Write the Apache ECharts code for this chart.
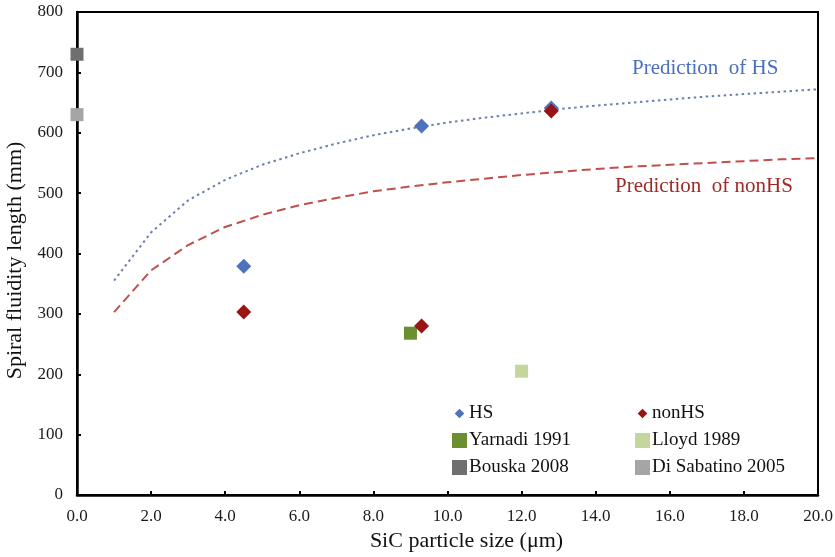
<!DOCTYPE html>
<html>
<head>
<meta charset="utf-8">
<script src="https://cdn.jsdelivr.net/npm/echarts@6/dist/echarts.min.js"></script>
<style>
  html, body { margin: 0; padding: 0; background: #fff; }
  #chart { width: 835px; height: 557px; }
</style>
</head>
<body>
<div id="chart"></div>
<script>
// measured points (SiC size um, fluidity mm)
var hsPoints = [[4.5, 379], [9.3, 611], [12.8, 641]];
var nonhsPoints = [[4.5, 303], [9.3, 280], [12.8, 636]];
var yarnadiPoints = [[9.0, 268]];
var lloydPoints = [[12.0, 205]];
var bouskaPoints = [[0, 730]];
var sabatinoPoints = [[0, 630]];

// prediction curves
var predX = [1, 2, 3, 4, 5, 6, 7, 8, 9, 10, 11, 12, 13, 14, 15, 16, 17, 18, 19, 20];
var predHS = [355, 435, 488, 522, 547, 566, 582, 596, 607, 617, 625, 632, 639, 645, 650, 655, 660, 664, 668, 672];
var predNonHS = [303, 372, 414, 444, 464, 480, 492, 503, 511, 518, 524, 530, 535, 540, 544, 547, 550, 553, 556, 558];

var xTicks = { min: 0, max: 20, interval: 2 };
var yTicks = { min: 0, max: 800, interval: 100 };

function zip(xs, ys) {
  return xs.map(function (x, i) { return [x, ys[i]]; });
}

var font = 'Liberation Serif';
// small diamond for the legend, padded so it draws smaller than the squares
var smallDiamond = 'path://M0,0M14,14M7,2.5L11.5,7L7,11.5L2.5,7Z';

var chart = echarts.init(document.getElementById('chart'));

var legendText = { fontFamily: font, fontSize: 19, color: '#111', padding: [0, 0, 0, -3] };

var option = {
  animation: false,
  textStyle: { fontFamily: font },
  grid: {
    left: 77, right: 17, top: 12, bottom: 62,
    outerBoundsMode: 'none', containLabel: false,
    show: true, borderColor: '#000', borderWidth: 2
  },
  xAxis: {
    type: 'value',
    min: xTicks.min, max: xTicks.max, interval: xTicks.interval,
    name: 'SiC particle size (\u03bcm)',
    nameLocation: 'middle', nameGap: 34,
    nameTextStyle: { fontFamily: font, fontSize: 22, color: '#111', padding: [0, 0, 0, 38] },
    axisLine: { lineStyle: { color: '#000', width: 2.5 } },
    axisTick: { inside: true, length: 4, lineStyle: { color: '#000', width: 2 } },
    axisLabel: {
      fontFamily: font, fontSize: 17, color: '#1a1a1a', margin: 13,
      formatter: function (v) { return v.toFixed(1); }
    },
    splitLine: { show: false }
  },
  yAxis: {
    type: 'value',
    min: yTicks.min, max: yTicks.max, interval: yTicks.interval,
    name: 'Spiral fluidity length (mm)',
    nameLocation: 'middle', nameGap: 44,
    nameTextStyle: { fontFamily: font, fontSize: 22, color: '#111', padding: [0, 0, 0, -14] },
    axisLine: { show: true, lineStyle: { color: '#000', width: 2.5 } },
    axisTick: { show: true, inside: true, length: 4, lineStyle: { color: '#000', width: 2 } },
    axisLabel: { fontFamily: font, fontSize: 17, color: '#1a1a1a', margin: 14 },
    splitLine: { show: false }
  },
  legend: [
    {
      left: 447, top: 399, orient: 'vertical', itemGap: 8,
      itemWidth: 15, itemHeight: 15,
      textStyle: legendText,
      data: [
        { name: 'HS', icon: smallDiamond },
        { name: 'Yarnadi 1991', icon: 'rect' },
        { name: 'Bouska 2008', icon: 'rect' }
      ]
    },
    {
      left: 630, top: 399, orient: 'vertical', itemGap: 8,
      itemWidth: 15, itemHeight: 15,
      textStyle: legendText,
      data: [
        { name: 'nonHS', icon: smallDiamond },
        { name: 'Lloyd 1989', icon: 'rect' },
        { name: 'Di Sabatino 2005', icon: 'rect' }
      ]
    }
  ],
  graphic: [
    {
      type: 'text', left: 632, top: 58,
      style: { text: 'Prediction  of HS', font: '21px "Liberation Serif"', fill: '#4a6fbf' }
    },
    {
      type: 'text', left: 615, top: 176,
      style: { text: 'Prediction  of nonHS', font: '21px "Liberation Serif"', fill: '#9e2a26' }
    }
  ],
  series: [
    {
      name: 'Prediction of HS', type: 'line', data: zip(predX, predHS),
      showSymbol: false, smooth: false, silent: true,
      lineStyle: { color: '#6d80ad', width: 2, type: [2.5, 3.5] },
      z: 1
    },
    {
      name: 'Prediction of nonHS', type: 'line', data: zip(predX, predNonHS),
      showSymbol: false, smooth: false, silent: true,
      lineStyle: { color: '#c0504d', width: 2, type: [9, 5] },
      z: 1
    },
    {
      name: 'HS', type: 'scatter', data: hsPoints, symbol: 'diamond', symbolSize: 15,
      itemStyle: { color: '#4f72bd', opacity: 1 }, z: 3
    },
    {
      name: 'nonHS', type: 'scatter', data: nonhsPoints, symbol: 'diamond', symbolSize: 15,
      itemStyle: { color: '#9b1414', opacity: 1 }, z: 4
    },
    {
      name: 'Yarnadi 1991', type: 'scatter', data: yarnadiPoints, symbol: 'rect', symbolSize: 13,
      itemStyle: { color: '#6a8f2e', opacity: 1 }, z: 3
    },
    {
      name: 'Lloyd 1989', type: 'scatter', data: lloydPoints, symbol: 'rect', symbolSize: 13,
      itemStyle: { color: '#c3d69b', opacity: 1 }, z: 3
    },
    {
      name: 'Bouska 2008', type: 'scatter', data: bouskaPoints, symbol: 'rect', symbolSize: 13,
      clip: false, itemStyle: { color: '#6f6f6f', opacity: 1 }, z: 5
    },
    {
      name: 'Di Sabatino 2005', type: 'scatter', data: sabatinoPoints, symbol: 'rect', symbolSize: 13,
      clip: false, itemStyle: { color: '#a5a5a5', opacity: 1 }, z: 5
    }
  ]
};

chart.setOption(option);
</script>
</body>
</html>
